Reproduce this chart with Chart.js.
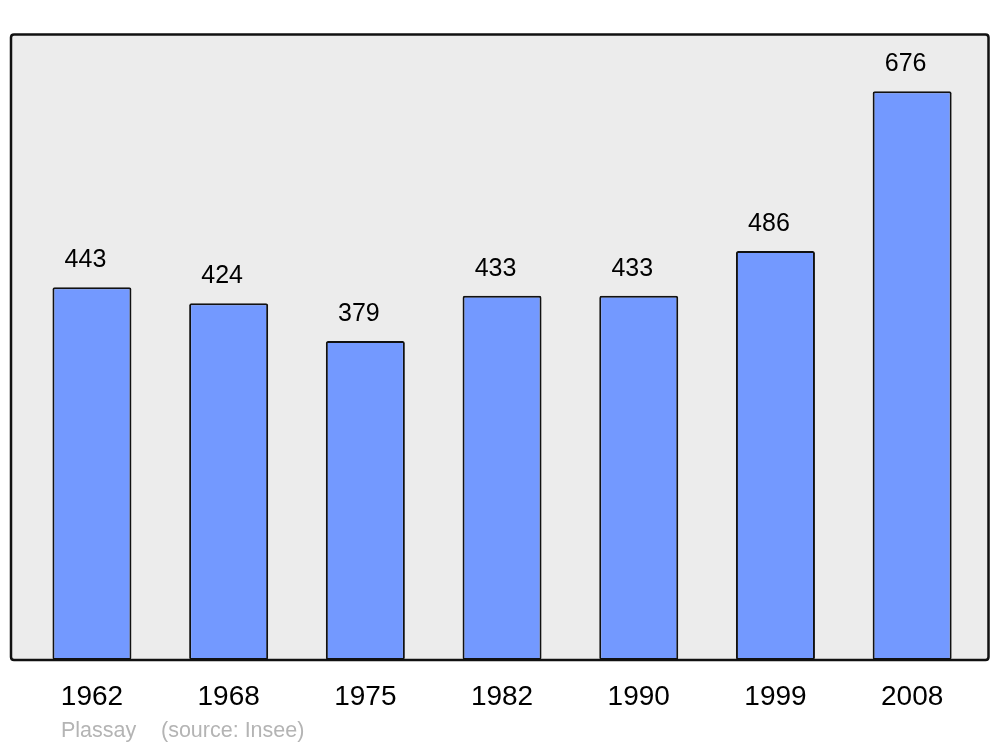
<!DOCTYPE html>
<html>
<head>
<meta charset="utf-8">
<script src="https://cdn.jsdelivr.net/npm/chart.js@4/dist/chart.umd.min.js"></script>
<style>
html,body{margin:0;padding:0;background:#fff;}
#wrap{width:1000px;height:747px;}
</style>
</head>
<body>
<div id="wrap"><canvas id="c" width="1000" height="747"></canvas></div>
<script>
const years = ["1962","1968","1975","1982","1990","1999","2008"];
const population = [443, 424, 379, 433, 433, 486, 676];
const captionName = "Plassay";
const captionSource = "(source: Insee)";

const FONT = "'Liberation Sans', Arial, sans-serif";

function roundRect(ctx, x, y, w, h, r) {
  ctx.beginPath();
  ctx.moveTo(x + r, y);
  ctx.lineTo(x + w - r, y);
  ctx.quadraticCurveTo(x + w, y, x + w, y + r);
  ctx.lineTo(x + w, y + h - r);
  ctx.quadraticCurveTo(x + w, y + h, x + w - r, y + h);
  ctx.lineTo(x + r, y + h);
  ctx.quadraticCurveTo(x, y + h, x, y + h - r);
  ctx.lineTo(x, y + r);
  ctx.quadraticCurveTo(x, y, x + r, y);
  ctx.closePath();
}

const frame = { x: 11, y: 34.5, w: 977.5, h: 625.5 };

const framePlugin = {
  id: 'framePlugin',
  beforeDatasetsDraw(chart) {
    const ctx = chart.ctx;
    ctx.save();
    roundRect(ctx, frame.x, frame.y, frame.w, frame.h, 3);
    ctx.fillStyle = '#ececec';
    ctx.fill();
    ctx.restore();
  },
  afterDatasetsDraw(chart) {
    const ctx = chart.ctx;
    ctx.save();
    roundRect(ctx, frame.x, frame.y, frame.w, frame.h, 3);
    ctx.lineWidth = 2.5;
    ctx.strokeStyle = '#111';
    ctx.stroke();
    // value labels
    const meta = chart.getDatasetMeta(0);
    ctx.fillStyle = '#000';
    ctx.font = "25px " + FONT;
    ctx.textAlign = 'center';
    ctx.textBaseline = 'middle';
    meta.data.forEach((bar, i) => {
      ctx.fillText(String(population[i]), bar.x - 6.5, bar.y - 27);
    });
    // caption
    ctx.fillStyle = '#b4b4b4';
    ctx.font = "21.5px " + FONT;
    ctx.textAlign = 'left';
    ctx.textBaseline = 'alphabetic';
    ctx.fillText(captionName, 61, 737);
    ctx.fillText(captionSource, 161, 737);
    ctx.restore();
  }
};

new Chart(document.getElementById('c'), {
  type: 'bar',
  data: {
    labels: years,
    datasets: [{
      data: population,
      backgroundColor: '#7399ff',
      borderColor: '#111',
      borderWidth: 2,
      borderRadius: 2,
      borderSkipped: false,
      barPercentage: 0.578,
      categoryPercentage: 1.0
    }]
  },
  options: {
    responsive: false,
    animation: false,
    devicePixelRatio: 1,
    layout: { padding: { left: 23.6, right: 19.5, top: 34, bottom: 0 } },
    plugins: { legend: { display: false }, tooltip: { enabled: false } },
    scales: {
      x: {
        grid: { display: false, drawTicks: false },
        border: { display: false },
        ticks: { color: '#000', font: { family: FONT, size: 28 }, padding: 20, maxRotation: 0 },
        afterFit(scale) { scale.height = 87; }
      },
      y: {
        display: false,
        min: 0,
        max: 744
      }
    }
  },
  plugins: [framePlugin]
});
</script>
</body>
</html>
